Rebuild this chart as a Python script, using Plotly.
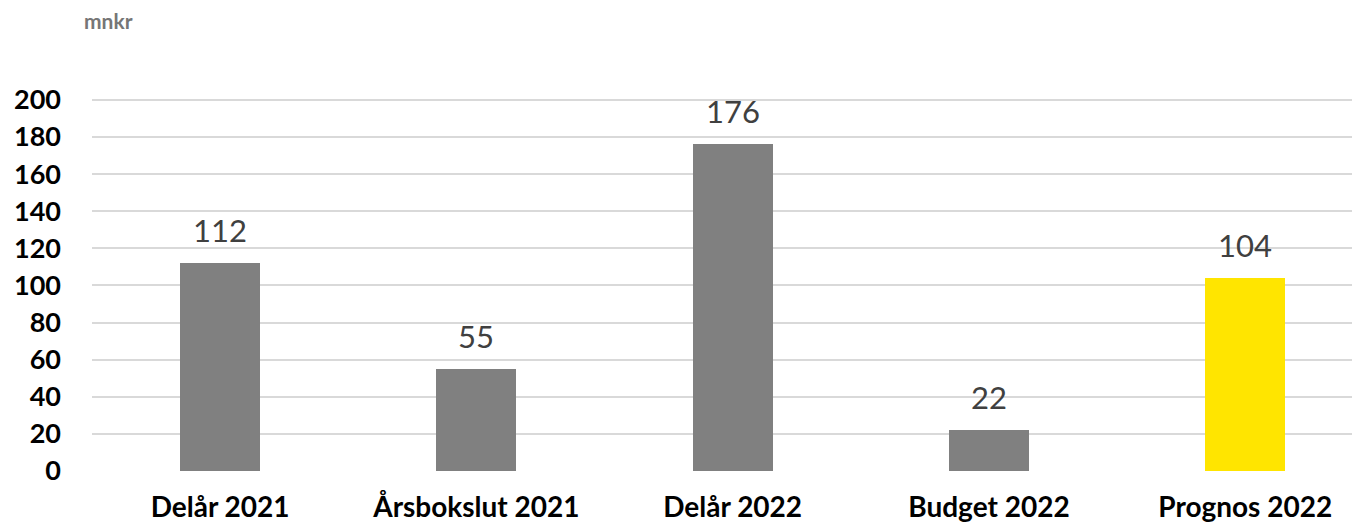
import plotly.graph_objects as go

categories = ["Delår 2021", "Årsbokslut 2021", "Delår 2022", "Budget 2022", "Prognos 2022"]
values = [112, 55, 176, 22, 104]
colors = ["#808080", "#808080", "#808080", "#808080", "#FFE500"]
y_ticks = [0, 20, 40, 60, 80, 100, 120, 140, 160, 180, 200]

FONT = "Lato, Roboto, sans-serif"

# page has an 8px body margin; figure coordinates are page - 8
W, H = 1352, 518
L = 84
B_PLOT = 463
R_PLOT = 1352

fig = go.Figure(go.Bar(
    x=list(range(len(categories))),
    y=values,
    marker=dict(color=colors, line=dict(width=0)),
    width=0.312,
    hoverinfo="x+y",
))

ymax = 201
px_per_unit = (471 - 100) / 200
top_px = round(471 - px_per_unit * ymax - 8)

fig.update_layout(
    width=W, height=H,
    margin=dict(l=L, r=W - R_PLOT, t=top_px, b=H - B_PLOT, autoexpand=False),
    plot_bgcolor="white", paper_bgcolor="white",
    showlegend=False,
    bargap=0,
    xaxis=dict(
        range=[-0.5, 4.448],
        tickmode="array",
        tickvals=list(range(len(categories))),
        ticktext=[f"<b>{c}</b>" for c in categories],
        tickfont=dict(family=FONT, size=28, color="#000000"),
        showgrid=False, zeroline=False, showline=False,
        ticks="", ticklabelstandoff=17, automargin=False,
    ),
    yaxis=dict(
        range=[0, ymax],
        tickmode="array",
        tickvals=y_ticks,
        ticktext=[f"<b>{t}</b>" for t in y_ticks],
        tickfont=dict(family=FONT, size=27, color="#000000"),
        showgrid=True, gridcolor="#D9D9D9", gridwidth=1.5,
        zeroline=False, showline=False, ticks="",
        ticklabelstandoff=30, automargin=False,
    ),
)

# data labels
for i, v in enumerate(values):
    fig.add_annotation(
        x=i, y=v, xref="x", yref="y", text=str(v),
        showarrow=False, yanchor="bottom", xanchor="center", yshift=12,
        font=dict(family=FONT, size=31, color="#404040"),
    )

plot_h = B_PLOT - top_px
fig.add_annotation(
    text="<b>mnkr</b>", xref="paper", yref="paper",
    x=(82 - 8 - L) / (R_PLOT - L), y=1 + (top_px - (20 - 8)) / plot_h,
    showarrow=False, font=dict(family=FONT, size=21, color="#767676"),
    xanchor="left", yanchor="middle",
)

fig.write_html("out.html")
